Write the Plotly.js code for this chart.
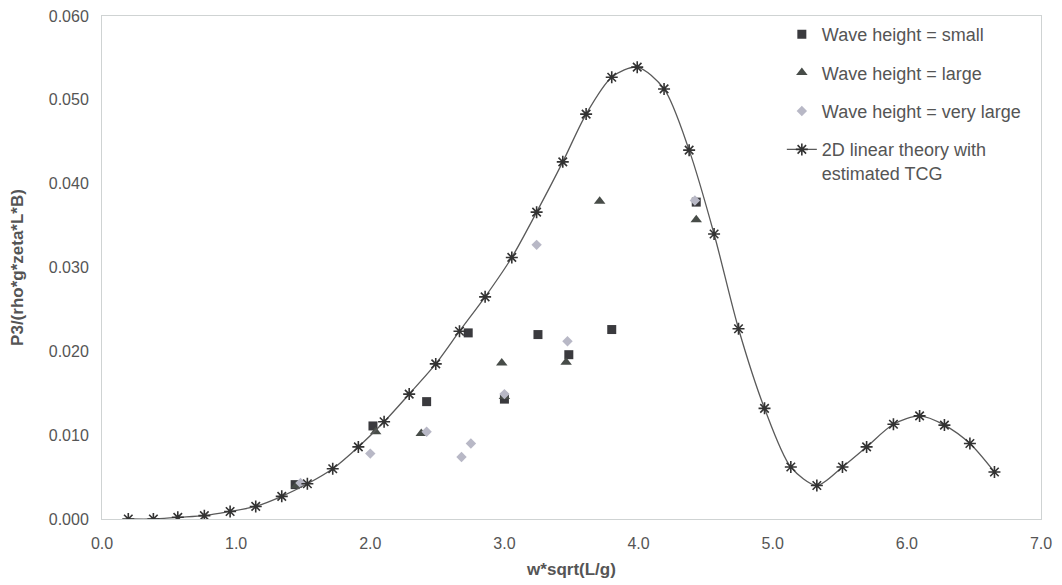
<!DOCTYPE html>
<html>
<head>
<meta charset="utf-8">
<script src="https://cdn.plot.ly/plotly-3.0.1.min.js"></script>
<style>html,body{margin:0;padding:0;background:#fff;}#chart{width:1062px;height:585px;}</style>
</head>
<body>
<div id="chart"></div>
<script>
// Theory curve (2D linear theory with estimated TCG)
const theoryX = [0.196,0.383,0.565,0.763,0.955,1.146,1.340,1.531,1.720,1.911,2.103,2.290,2.488,2.665,2.856,3.055,3.240,3.435,3.609,3.800,3.990,4.190,4.377,4.563,4.745,4.939,5.135,5.329,5.520,5.700,5.900,6.095,6.280,6.470,6.653];
const theoryY = [0.0000,0.0000,0.0002,0.0004,0.0009,0.0015,0.0027,0.0042,0.0060,0.0086,0.0116,0.0149,0.0185,0.0224,0.0265,0.0312,0.0366,0.0426,0.0483,0.0527,0.0539,0.0513,0.0440,0.0340,0.0227,0.0132,0.0062,0.0040,0.0062,0.0086,0.0113,0.0123,0.0112,0.0090,0.0056];

// Wave height = small
const smallX = [1.44,2.02,2.42,2.73,3.00,3.25,3.48,3.80,4.43];
const smallY = [0.0041,0.0111,0.0140,0.0222,0.0143,0.0220,0.0196,0.0226,0.0378];

// Wave height = large
const largeX = [1.45,2.04,2.38,2.98,3.00,3.46,3.71,4.43];
const largeY = [0.0040,0.0104,0.0102,0.0186,0.0146,0.0187,0.0379,0.0357];

// Wave height = very large
const vlargeX = [1.48,2.00,2.42,2.68,2.75,3.00,3.24,3.47,4.42];
const vlargeY = [0.0043,0.0078,0.0104,0.0074,0.0090,0.0149,0.0327,0.0212,0.0380];

const seriesNames = ["Wave height = small","Wave height = large","Wave height = very large","2D linear theory with<br>estimated TCG"];

const traces = [
  {x: smallX, y: smallY, mode: 'markers', type: 'scatter', name: seriesNames[0], legendgroup: 'a',
   marker: {symbol: 'square', size: 9, color: '#3a3a3e'}},
  {x: largeX, y: largeY, mode: 'markers', type: 'scatter', name: seriesNames[1], legendgroup: 'b',
   marker: {symbol: 'triangle-up', size: 10, color: '#474c48'}},
  {x: vlargeX, y: vlargeY, mode: 'markers', type: 'scatter', name: seriesNames[2], legendgroup: 'c',
   marker: {symbol: 'diamond', size: 8, color: '#b8b8c6'}},
  {x: theoryX, y: theoryY, mode: 'lines+markers', type: 'scatter', name: seriesNames[3], legendgroup: 'd',
   line: {shape: 'spline', smoothing: 0.8, color: '#5a5a5a', width: 1.3},
   marker: {symbol: 'asterisk-open', size: 10, color: '#333', line: {width: 1.6, color: '#333'}}}
];

const layout = {
  width: 1062, height: 585,
  margin: {l: 102, r: 21, t: 16, b: 66},
  paper_bgcolor: '#fff', plot_bgcolor: '#fff',
  font: {family: 'Liberation Sans, Arial, sans-serif', color: '#555'},
  showlegend: true,
  legend: {x: 0.724, y: 1, xanchor: 'left', yanchor: 'top', bgcolor: 'rgba(0,0,0,0)',
           font: {size: 18, color: '#555'}, tracegroupgap: 12, valign: 'top', traceorder: 'grouped'},
  xaxis: {range: [0, 7], dtick: 1, tick0: 0, tickformat: '.1f', showgrid: false, zeroline: false,
          showline: true, mirror: true, linecolor: '#cfd3d3', linewidth: 1, ticks: '',
          ticklabelstandoff: 10,
          tickfont: {size: 16, color: '#555'},
          title: {text: '<b>w*sqrt(L/g)</b>', font: {size: 17, color: '#555'}, standoff: 11}},
  yaxis: {range: [0, 0.06], dtick: 0.01, tick0: 0, tickformat: '.3f', showgrid: false, zeroline: false,
          showline: true, mirror: true, linecolor: '#cfd3d3', linewidth: 1, ticks: '',
          ticklabelstandoff: 9,
          tickfont: {size: 16, color: '#555'},
          title: {text: '<b>P3/(rho*g*zeta*L*B)</b>', font: {size: 17, color: '#555'}, standoff: 20}}
};

Plotly.newPlot('chart', traces, layout, {displayModeBar: false, staticPlot: true});
</script>
</body>
</html>
